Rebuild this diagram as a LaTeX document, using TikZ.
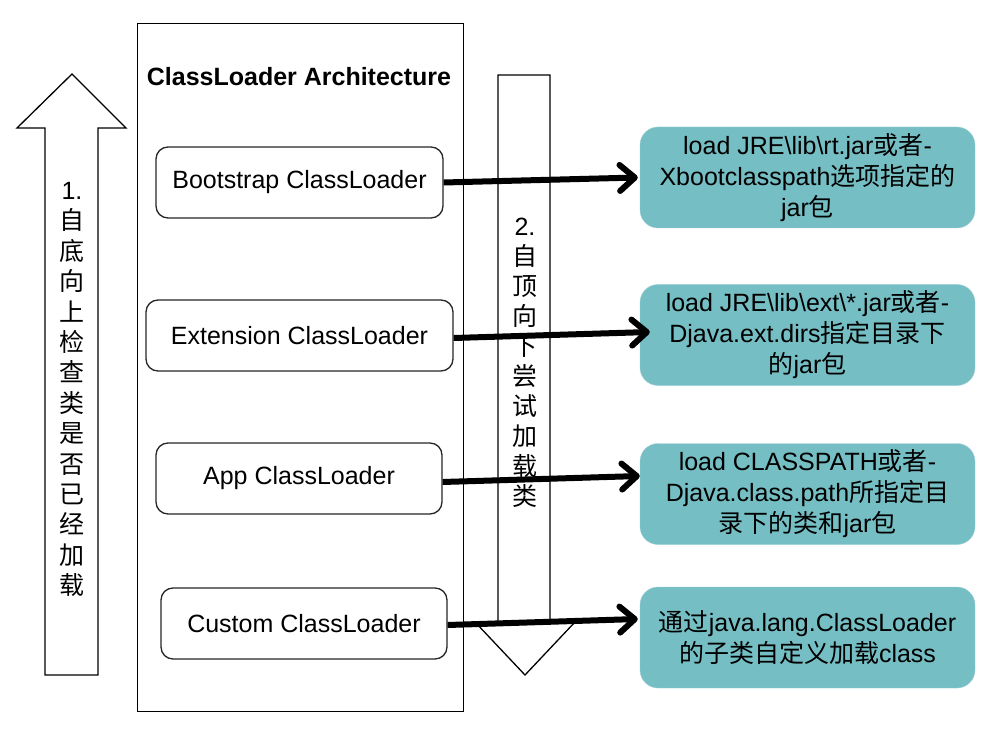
\documentclass[tikz,border=0pt]{standalone}
\usepackage{fontspec}
\setmainfont{Liberation Sans}
\newfontfamily\cjk{Noto Sans CJK SC}
\newcommand{\zh}[1]{{\cjk #1}}
\usepackage{xcolor}
\usepackage{tikz}
\usetikzlibrary{arrows.meta}
\definecolor{tealbox}{RGB}{116,190,196}
\tikzset{
  loaderbox/.style={rectangle, draw=black!85, line width=1.3pt, rounded corners=12pt,
                    fill=white, minimum width=#1, minimum height=71pt,
                    font=\fontsize{25}{30}\selectfont},
  pathbox/.style={rectangle, draw=tealbox!70!white, fill=tealbox, rounded corners=18pt,
                  minimum width=335pt, minimum height=101pt, align=center,
                  font=\fontsize{25}{31}\selectfont},
  vtext/.style={align=center, inner sep=0pt, font=\cjk\fontsize{25}{#1}\selectfont},
  blockarr/.style={draw=black, line width=1.3pt, fill=white},
  loadarr/.style={-{Straight Barb[length=15pt,width=26pt,round]}, line width=6pt, draw=black},
}
\begin{document}
\begin{tikzpicture}[x=1pt, y=-1pt]
  \useasboundingbox (0,0) rectangle (991,735);
  \node[draw=black, line width=1pt, minimum width=326pt, minimum height=687pt] (arch) at (300,367.5) {};
  \node[font=\bfseries\fontsize{25}{30}\selectfont] (title) at (299,77) {ClassLoader Architecture};
  % block arrows
  \draw[blockarr] (45,675) -- (45,128) -- (17,128) -- (72,74) -- (126,128) -- (98,128) -- (98,675) -- cycle;
  \draw[blockarr] (498,75) -- (550,75) -- (550,622) -- (575,622) -- (525,675) -- (475,622) -- (498,622) -- cycle;
  \node[vtext=30.4] (up) at (72,389.5) {{\rmfamily 1.}\\自\\底\\向\\上\\检\\查\\类\\是\\否\\已\\经\\加\\载};
  \node[vtext=30] (down) at (525,362.5) {{\rmfamily 2.}\\自\\顶\\向\\下\\尝\\试\\加\\载\\类};
  \node[loaderbox=287pt] (boot) at (299.5,182.5) {Bootstrap ClassLoader};
  \node[loaderbox=307pt] (ext)  at (299.5,335.5) {Extension ClassLoader};
  \node[loaderbox=286pt] (app)  at (299,478.5)   {App ClassLoader};
  \node[loaderbox=286pt] (cust) at (304,623.5)   {Custom ClassLoader};
  \node[pathbox] (jre)  at (807.5,177.5) {load JRE\textbackslash lib\textbackslash rt.jar\zh{或者}-\\Xbootclasspath\zh{选项指定的}\\jar\zh{包}};
  \node[pathbox] (jext) at (807.5,335)   {load JRE\textbackslash lib\textbackslash ext\textbackslash *.jar\zh{或者}-\\Djava.ext.dirs\zh{指定目录下}\\\zh{的}jar\zh{包}};
  \node[pathbox] (cp)   at (807.5,494)   {load CLASSPATH\zh{或者}-\\Djava.class.path\zh{所指定目}\\\zh{录下的类和}jar\zh{包}};
  \node[pathbox] (sub)  at (807.5,637.5) {\zh{通过}java.lang.ClassLoader\\\zh{的子类自定义加载}class};
  \draw[loadarr] (boot.east) -- ([xshift=-2pt]jre.west);
  \draw[loadarr] ([yshift=-2.5pt]ext.east) -- ([xshift=10pt,yshift=3pt]jext.west);
  \draw[loadarr] ([yshift=-3.5pt]app.east) -- ([yshift=18pt]cp.west);
  \draw[loadarr] ([yshift=-1.5pt]cust.east) -- ([xshift=-2pt,yshift=18.5pt]sub.west);
\end{tikzpicture}
\end{document}
